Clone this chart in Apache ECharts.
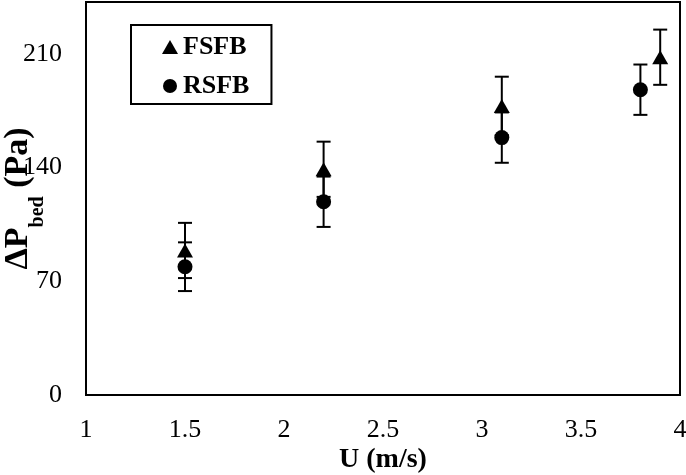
<!DOCTYPE html>
<html>
<head>
<meta charset="utf-8">
<script src="https://cdn.jsdelivr.net/npm/echarts@6/dist/echarts.min.js"></script>
<style>
  html, body { margin: 0; padding: 0; background: #fff; }
  #main { width: 686px; height: 475px; }
</style>
</head>
<body>
<div id="main"></div>
<script>
// flow velocity U (m/s) and bed pressure drop (Pa)
var uFsfb = [1.5, 2.2, 3.1, 3.9];
var dpFsfb = [89, 139, 178, 208];
var errFsfb = [17, 17, 18, 17];

var uRsfb = [1.5, 2.2, 3.1, 3.8];
var dpRsfb = [79, 119, 158.5, 188];
var errRsfb = [15, 15.5, 15.5, 15.5];

var xTicks = [1, 1.5, 2, 2.5, 3, 3.5, 4];
var yTicks = [0, 70, 140, 210];

var FONT = 'Liberation Serif, Times New Roman, serif';

function points(xs, ys) {
	var out = [];
	for (var i = 0; i < xs.length; i++) out.push([xs[i], ys[i]]);
	return out;
}
function bars(xs, ys, es) {
	var out = [];
	for (var i = 0; i < xs.length; i++) out.push([xs[i], ys[i] - es[i], ys[i] + es[i]]);
	return out;
}

// error bar: vertical line plus two caps
function renderErr(params, api) {
	var lo = api.coord([api.value(0), api.value(1)]);
	var hi = api.coord([api.value(0), api.value(2)]);
	var half = 7;
	var st = { stroke: '#000', lineWidth: 2 };
	return {
		type: 'group',
		children: [
			{ type: 'line', shape: { x1: lo[0], y1: lo[1], x2: hi[0], y2: hi[1] }, style: st },
			{ type: 'line', shape: { x1: lo[0] - half, y1: lo[1], x2: lo[0] + half, y2: lo[1] }, style: st },
			{ type: 'line', shape: { x1: hi[0] - half, y1: hi[1], x2: hi[0] + half, y2: hi[1] }, style: st }
		]
	};
}

var myChart = echarts.init(document.getElementById('main'));
var option = {
	backgroundColor: '#fff',
	animation: false,
	textStyle: { fontFamily: FONT },
	grid: {
		left: 86, right: 6, top: 2, bottom: 80,
		outerBoundsMode: 'none', containLabel: false,
		show: true, borderColor: '#000', borderWidth: 2
	},
	legend: {
		orient: 'vertical',
		left: 131, top: 25,
		padding: [9, 22, 5, 31],
		itemGap: 13,
		itemWidth: 16, itemHeight: 14,
		borderColor: '#000', borderWidth: 2,
		backgroundColor: '#fff',
		data: ['FSFB', 'RSFB'],
		textStyle: { fontFamily: FONT, fontSize: 26, fontWeight: 'bold', color: '#000' }
	},
	xAxis: {
		type: 'value',
		min: xTicks[0], max: xTicks[xTicks.length - 1], interval: 0.5,
		name: 'U (m/s)',
		nameLocation: 'middle',
		nameGap: 51,
		nameMoveOverlap: false,
		nameTextStyle: { fontFamily: FONT, fontSize: 28, fontWeight: 'bold', color: '#000' },
		axisLine: { lineStyle: { color: '#000', width: 2 } },
		axisTick: { show: false },
		splitLine: { show: false },
		axisLabel: { margin: 22, fontFamily: FONT, fontSize: 26, color: '#000' }
	},
	yAxis: {
		type: 'value',
		min: yTicks[0], max: 242, interval: 70,
		name: '{m|ΔP}{s|bed}{m| (Pa)}',
		nameLocation: 'middle',
		nameRotate: 90,
		nameGap: 51,
		nameMoveOverlap: false,
		nameTextStyle: {
			rich: {
				m: { fontFamily: FONT, fontSize: 34, fontWeight: 'bold', color: '#000', lineHeight: 34, verticalAlign: 'top' },
				s: { fontFamily: FONT, fontSize: 20, fontWeight: 'bold', color: '#000', lineHeight: 20, verticalAlign: 'top', padding: [27, 0, 0, 0] }
			}
		},
		axisLine: { lineStyle: { color: '#000', width: 2 } },
		axisTick: { show: false },
		splitLine: { show: false },
		axisLabel: { margin: 24, showMaxLabel: false, fontFamily: FONT, fontSize: 26, color: '#000' }
	},
	series: [
		{
			type: 'custom', name: 'errF', renderItem: renderErr,
			data: bars(uFsfb, dpFsfb, errFsfb), z: 1, silent: true
		},
		{
			type: 'custom', name: 'errR', renderItem: renderErr,
			data: bars(uRsfb, dpRsfb, errRsfb), z: 1, silent: true
		},
		{
			type: 'scatter', name: 'FSFB', symbol: 'triangle', symbolSize: [16, 14],
			itemStyle: { color: '#000', opacity: 1 }, data: points(uFsfb, dpFsfb), z: 3
		},
		{
			type: 'scatter', name: 'RSFB', symbol: 'circle', symbolSize: 15,
			itemStyle: { color: '#000', opacity: 1 }, data: points(uRsfb, dpRsfb), z: 3
		}
	]
};
myChart.setOption(option);
</script>
</body>
</html>
